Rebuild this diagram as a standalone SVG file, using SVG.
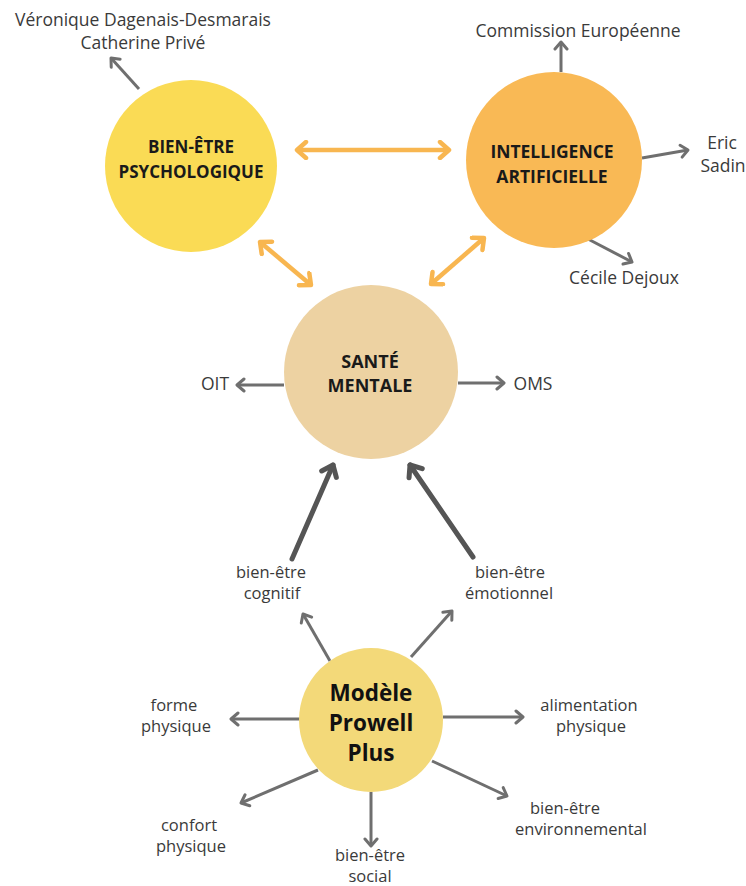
<svg xmlns="http://www.w3.org/2000/svg" width="746" height="886" viewBox="0 0 746 886">
  <defs>
    <style>
      .lbl { font-family: "Open Sans", "DejaVu Sans", sans-serif; font-size: 17.5px; fill: #3a3a3a; text-anchor: middle; }
      .sm { font-size: 16.5px; }
      .hd { font-family: "Open Sans", "DejaVu Sans", sans-serif; font-size: 17px; font-weight: 700; fill: #1a1a1a; text-anchor: middle; }
      .hd2 { font-family: "Open Sans", "DejaVu Sans", sans-serif; font-size: 22.5px; font-weight: 700; fill: #111; text-anchor: middle; }
      .thin { stroke: #6f6f6f; stroke-width: 3; fill: none; marker-end: url(#hGray); }
      .thick { stroke: #555555; stroke-width: 5; fill: none; stroke-linecap: round; marker-end: url(#hDark); }
      .dbl { stroke: #F8B650; stroke-width: 4.5; fill: none; marker-start: url(#hOrange); marker-end: url(#hOrange); }
    </style>
    <marker id="hGray" markerUnits="userSpaceOnUse" viewBox="-10 -8 12 16" refX="0" refY="0" markerWidth="12" markerHeight="16" orient="auto">
      <path d="M-7,-6 L0,0 L-7,6" fill="none" stroke="#6f6f6f" stroke-width="3" stroke-linecap="round" stroke-linejoin="round"/>
    </marker>
    <marker id="hDark" markerUnits="userSpaceOnUse" viewBox="-14 -11 17 22" refX="0" refY="0" markerWidth="17" markerHeight="22" orient="auto">
      <path d="M-10,-8 L0,0 L-10,8" fill="none" stroke="#555555" stroke-width="5" stroke-linecap="round" stroke-linejoin="round"/>
    </marker>
    <marker id="hOrange" markerUnits="userSpaceOnUse" viewBox="-12 -10 15 20" refX="0" refY="0" markerWidth="15" markerHeight="20" orient="auto-start-reverse">
      <path d="M-9,-8 L0,0 L-9,8" fill="none" stroke="#F8B650" stroke-width="4.5" stroke-linecap="round" stroke-linejoin="round"/>
    </marker>
  </defs>

  <rect width="746" height="886" fill="#ffffff"/>

  <!-- connectors -->
  <g id="connectors">
    <!-- two-way links between the three themes -->
    <line class="dbl" x1="297" y1="150" x2="449" y2="150"/>
    <line class="dbl" x1="260" y1="242" x2="311" y2="285"/>
    <line class="dbl" x1="484" y1="238" x2="431" y2="284"/>
    <!-- sources -->
    <line class="thin" x1="139" y1="89" x2="111" y2="58"/>
    <line class="thin" x1="561" y1="72" x2="561" y2="42"/>
    <line class="thin" x1="642" y1="158" x2="688" y2="150"/>
    <line class="thin" x1="588" y1="239" x2="632" y2="262"/>
    <line class="thin" x1="284" y1="385" x2="237" y2="385"/>
    <line class="thin" x1="458" y1="383" x2="504" y2="383"/>
    <!-- dimensions feeding mental health -->
    <line class="thick" x1="292" y1="559" x2="333" y2="465"/>
    <line class="thick" x1="473" y1="557" x2="410" y2="465"/>
    <!-- Prowell Plus dimensions -->
    <line class="thin" x1="330" y1="661" x2="303" y2="614"/>
    <line class="thin" x1="411" y1="657" x2="452" y2="611"/>
    <line class="thin" x1="300" y1="719" x2="231" y2="719"/>
    <line class="thin" x1="443" y1="717" x2="523" y2="717"/>
    <line class="thin" x1="318" y1="770" x2="241" y2="803"/>
    <line class="thin" x1="371" y1="792" x2="371" y2="846"/>
    <line class="thin" x1="432" y1="761" x2="507" y2="796"/>
  </g>

  <g id="bien-etre-psychologique">
    <circle cx="191" cy="166" r="86" fill="#FADB55"/>
    <text class="hd" x="191" y="153">BIEN-ÊTRE</text>
    <text class="hd" x="191" y="178">PSYCHOLOGIQUE</text>
  </g>

  <g id="intelligence-artificielle">
    <circle cx="554" cy="160" r="88" fill="#F9B955"/>
    <text class="hd" x="552" y="158" style="font-size:17.5px">INTELLIGENCE</text>
    <text class="hd" x="552" y="183" style="font-size:17.5px">ARTIFICIELLE</text>
  </g>

  <g id="sante-mentale">
    <circle cx="371" cy="372" r="87" fill="#EDD2A2"/>
    <text class="hd" x="370" y="368" style="font-size:18px">SANTÉ</text>
    <text class="hd" x="370" y="392" style="font-size:18px">MENTALE</text>
  </g>

  <g id="modele-prowell-plus">
    <circle cx="371" cy="720" r="72" fill="#F3D979"/>
    <text class="hd2" x="371" y="701">Modèle</text>
    <text class="hd2" x="371" y="731">Prowell</text>
    <text class="hd2" x="371" y="761">Plus</text>
  </g>

  <g id="labels">
    <text class="lbl" x="143" y="26">Véronique Dagenais-Desmarais</text>
    <text class="lbl" x="143" y="49">Catherine Privé</text>
    <text class="lbl" x="578" y="37">Commission Européenne</text>
    <text class="lbl" x="722" y="149">Eric</text>
    <text class="lbl" x="723" y="172">Sadin</text>
    <text class="lbl" x="624" y="284">Cécile Dejoux</text>
    <text class="lbl" x="215" y="390">OIT</text>
    <text class="lbl" x="533" y="390">OMS</text>
    <text class="lbl sm" x="271" y="578">bien-être</text>
    <text class="lbl sm" x="272" y="599">cognitif</text>
    <text class="lbl sm" x="510" y="578">bien-être</text>
    <text class="lbl sm" x="509" y="599">émotionnel</text>
    <text class="lbl sm" x="174" y="711">forme</text>
    <text class="lbl sm" x="176" y="732">physique</text>
    <text class="lbl sm" x="589" y="711">alimentation</text>
    <text class="lbl sm" x="591" y="732">physique</text>
    <text class="lbl sm" x="189" y="831">confort</text>
    <text class="lbl sm" x="191" y="852">physique</text>
    <text class="lbl sm" x="565" y="814">bien-être</text>
    <text class="lbl sm" x="581" y="835">environnemental</text>
    <text class="lbl sm" x="370" y="861">bien-être</text>
    <text class="lbl sm" x="370" y="882">social</text>
  </g>
</svg>
